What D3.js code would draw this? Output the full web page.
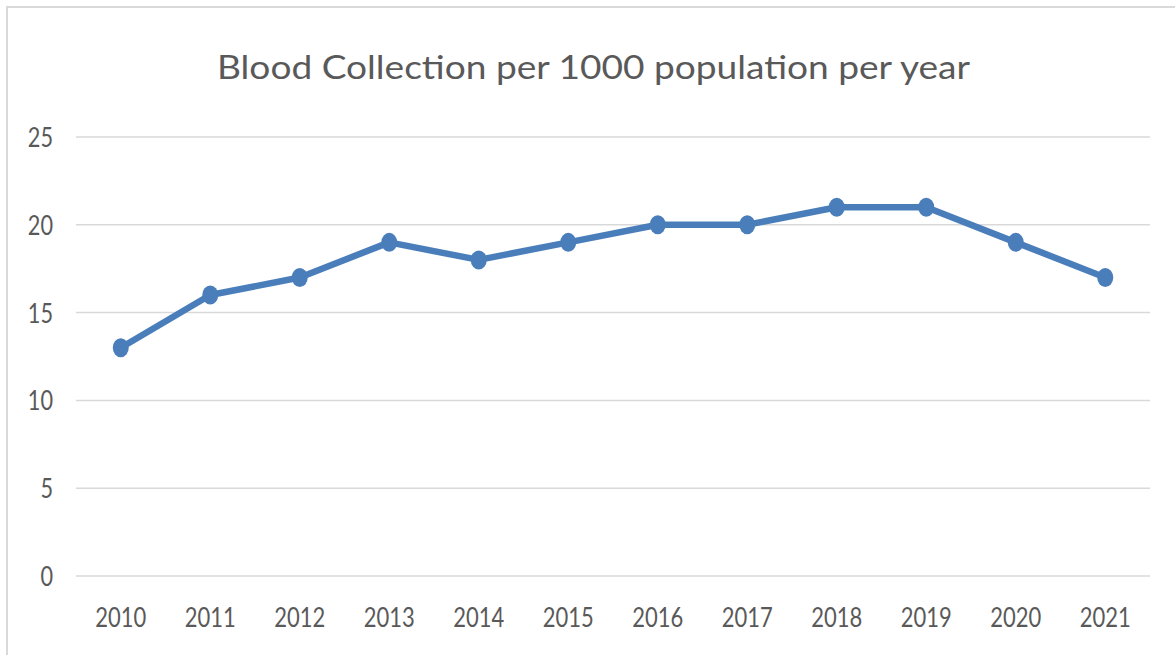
<!DOCTYPE html>
<html><head><meta charset="utf-8">
<script src="https://cdn.jsdelivr.net/npm/d3@7"></script>
<style>body{margin:0;background:#fff;} svg{display:block;}</style>
</head><body>
<svg id="c" width="1175" height="655"></svg>
<script>
const years = ["2010","2011","2012","2013","2014","2015","2016","2017","2018","2019","2020","2021"];
const values = [13,16,17,19,18,19,20,20,21,21,19,17];
const yTicks = [0,5,10,15,20,25];
const title = "Blood Collection per 1000 population per year";

const svg = d3.select("#c");
const font = "Lato, 'Open Sans', sans-serif";
const textColor = "#595959";

svg.append("rect").attr("x",7).attr("y",7).attr("width",1300).attr("height",800)
  .attr("fill","#fff").attr("stroke","#d9d9d9").attr("stroke-width",2);

const x = d3.scaleBand().domain(years).range([76,1150]);
const y = d3.scaleLinear().domain([0,25]).range([576,137]);

// gridlines
svg.append("g").selectAll("line").data(yTicks).join("line")
  .attr("x1",76).attr("x2",1150)
  .attr("y1",d=>y(d)).attr("y2",d=>y(d))
  .attr("stroke","#d9d9d9").attr("stroke-width",1.5);

// y labels
svg.append("g").selectAll("text").data(yTicks).join("text")
  .attr("x",53).attr("y",d=>y(d)+10)
  .attr("text-anchor","end")
  .attr("font-family",font).attr("font-size",26).attr("fill",textColor)
  .attr("textLength",d=>String(d).length*12.6).attr("lengthAdjust","spacingAndGlyphs")
  .text(d=>d);

// x labels
svg.append("g").selectAll("text").data(years).join("text")
  .attr("x",d=>x(d)+x.bandwidth()/2).attr("y",627)
  .attr("text-anchor","middle")
  .attr("font-family",font).attr("font-size",27).attr("fill",textColor)
  .attr("textLength",51).attr("lengthAdjust","spacingAndGlyphs")
  .text(d=>d);

// title
svg.append("text").attr("x",217).attr("y",79)
  .attr("font-family",font).attr("font-size",32).attr("fill",textColor)
  .attr("textLength",753).attr("lengthAdjust","spacingAndGlyphs")
  .text(title);

const pts = years.map((yr,i)=>({yr, v: values[i]}));
const line = d3.line().x(d=>x(d.yr)+x.bandwidth()/2).y(d=>y(d.v));
const blue = "#4a7ebb";
svg.append("path").datum(pts).attr("d",line)
  .attr("fill","none").attr("stroke",blue).attr("stroke-width",6.5)
  .attr("stroke-linejoin","round");
svg.append("g").selectAll("ellipse").data(pts).join("ellipse")
  .attr("cx",d=>x(d.yr)+x.bandwidth()/2).attr("cy",d=>y(d.v))
  .attr("rx",8).attr("ry",9.5).attr("fill",blue);
</script>
</body></html>
